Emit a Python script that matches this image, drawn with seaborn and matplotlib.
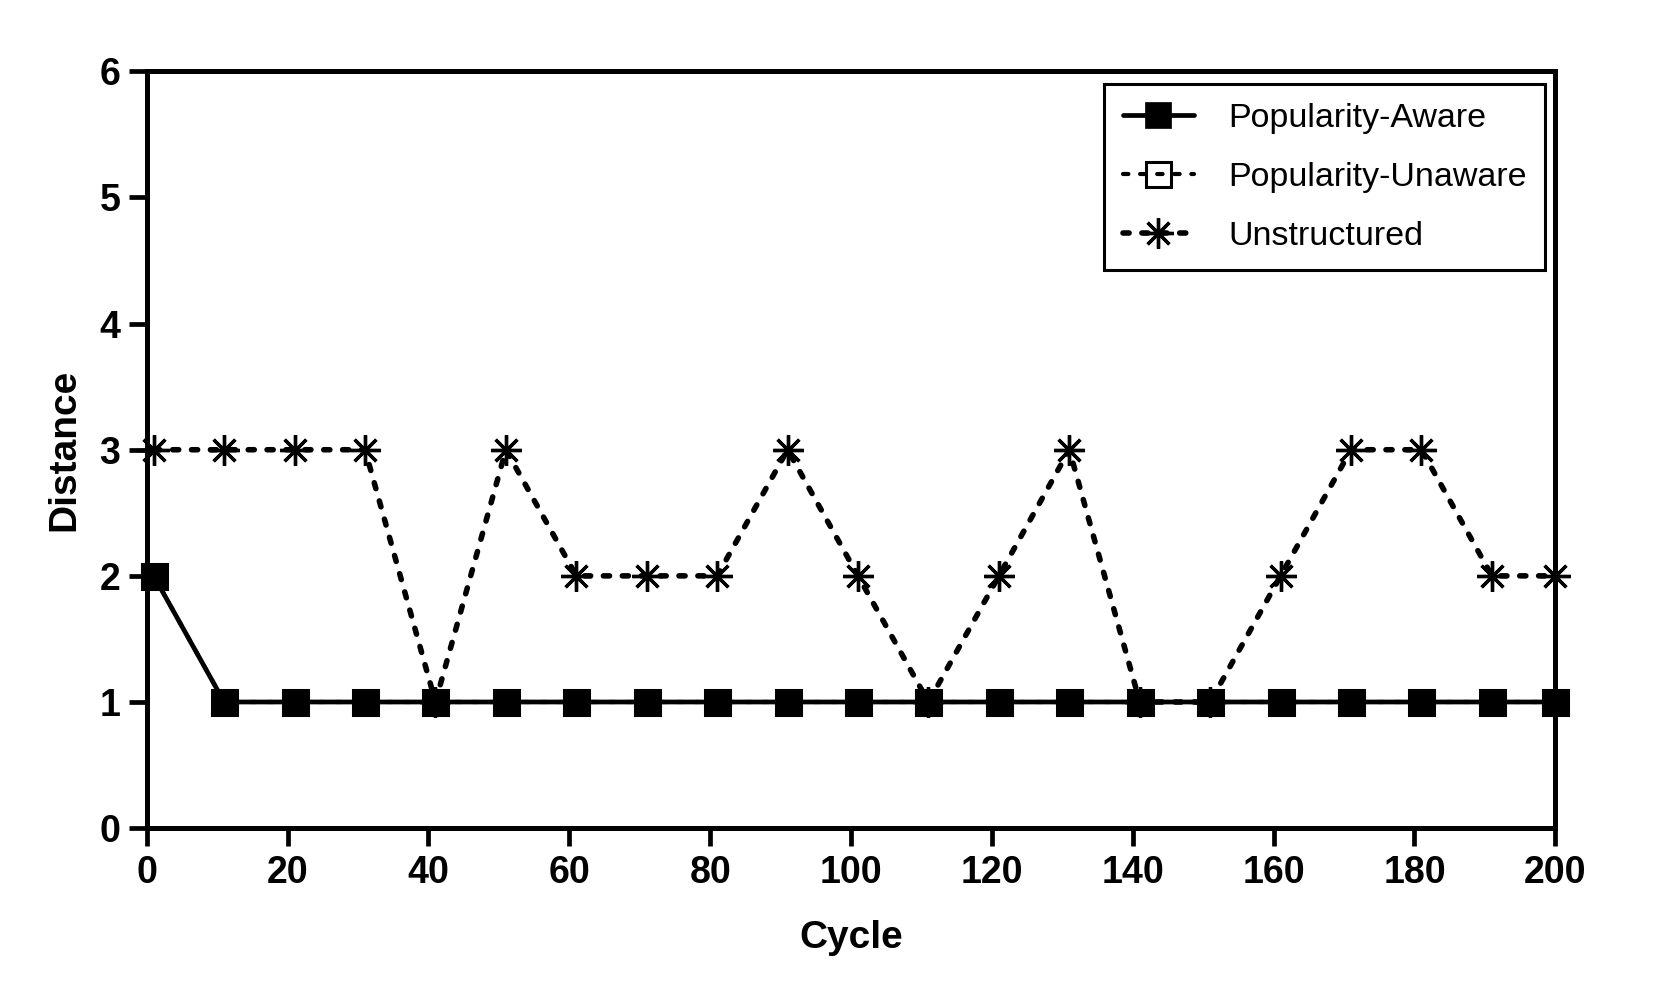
import matplotlib

matplotlib.use('Agg')
import matplotlib.pyplot as plt
from matplotlib import font_manager

import pandas as pd
import seaborn as sns

# values
cycles = [1, 11, 21, 31, 41, 51, 61, 71, 81, 91, 101, 111, 121, 131, 141, 151, 161, 171, 181, 191, 200]
popularity_aware = [2, 1, 1, 1, 1, 1, 1, 1, 1, 1, 1, 1, 1, 1, 1, 1, 1, 1, 1, 1, 1]
popularity_unaware = [2, 1, 1, 1, 1, 1, 1, 1, 1, 1, 1, 1, 1, 1, 1, 1, 1, 1, 1, 1, 1]
unstructured = [3, 3, 3, 3, 1, 3, 2, 2, 2, 3, 2, 1, 2, 3, 1, 1, 2, 3, 3, 2, 2]

x_ticks = [0, 20, 40, 60, 80, 100, 120, 140, 160, 180, 200]
y_ticks = [0, 1, 2, 3, 4, 5, 6]
series_labels = ["Popularity-Aware", "Popularity-Unaware", "Unstructured"]

df = pd.DataFrame({
    "cycle": cycles,
    "aware": popularity_aware,
    "unaware": popularity_unaware,
    "unstructured": unstructured,
})

sns.set_style("ticks")
plt.rcParams['font.family'] = ['Liberation Sans', 'DejaVu Sans']
plt.rcParams['text.color'] = 'black'
plt.rcParams['axes.labelcolor'] = 'black'
plt.rcParams['xtick.color'] = 'black'
plt.rcParams['ytick.color'] = 'black'

installed = {f.name for f in font_manager.fontManager.ttflist}
tick_family = 'Liberation Sans Narrow' if 'Liberation Sans Narrow' in installed else 'Liberation Sans'

fig = plt.figure(figsize=(16.67, 10.05), dpi=100)
ax = fig.add_axes([0.088, 0.176, 0.845, 0.753])

# short rounded dashes like the original
dash = (0, (1.1, 2.3))

sns.lineplot(data=df, x="cycle", y="unstructured", ax=ax, color="black", lw=4,
             linestyle=dash, dash_capstyle="round",
             marker=(8, 2, 0), markersize=22, markeredgewidth=2.4,
             markeredgecolor="black", markerfacecolor="black",
             clip_on=False, zorder=3, label=series_labels[2])
# sits right under Popularity-Aware, so keep it no wider than that line
sns.lineplot(data=df, x="cycle", y="unaware", ax=ax, color="black", lw=3.0,
             linestyle=(0, (1.3, 2.8)), dash_capstyle="round",
             marker="s", markersize=18, markerfacecolor="none", markeredgewidth=2.2,
             markeredgecolor="black",
             clip_on=False, zorder=4, label=series_labels[1])
sns.lineplot(data=df, x="cycle", y="aware", ax=ax, color="black", lw=3.4,
             marker="s", markersize=19, markeredgewidth=0.5,
             markeredgecolor="black", markerfacecolor="black",
             clip_on=False, zorder=5, label=series_labels[0])

ax.set_xlim(0, 200)
ax.set_ylim(0, 6)
ax.set_xticks(x_ticks)
ax.set_xticklabels([str(t) for t in x_ticks], fontfamily=tick_family, fontweight='bold', fontsize=27)
ax.set_yticks(y_ticks)
ax.set_yticklabels([str(t) for t in y_ticks], fontfamily=tick_family, fontweight='bold', fontsize=27)
ax.tick_params(direction='out', length=13, width=3.4, pad=6, colors='black')

for side in ['left', 'right', 'top', 'bottom']:
    ax.spines[side].set_visible(True)
    ax.spines[side].set_linewidth(3.6)
    ax.spines[side].set_color('black')

ax.set_xlabel("Cycle", fontsize=28, fontweight='bold', labelpad=21)
ax.set_ylabel("Distance", fontsize=28, fontweight='bold', labelpad=12)

handles, labels = ax.get_legend_handles_labels()
order = [labels.index(name) for name in series_labels]
leg = ax.legend([handles[i] for i in order], [labels[i] for i in order],
                loc='upper right', bbox_to_anchor=(0.993, 0.983), borderaxespad=0,
                frameon=True, fancybox=False, edgecolor='black', framealpha=1,
                fontsize=24.5, handlelength=2.1, handletextpad=1.0,
                labelspacing=0.82, borderpad=0.55)
leg.get_frame().set_linewidth(2.2)

fig.savefig("out.png", dpi=100, facecolor="white")
plt.close(fig)
